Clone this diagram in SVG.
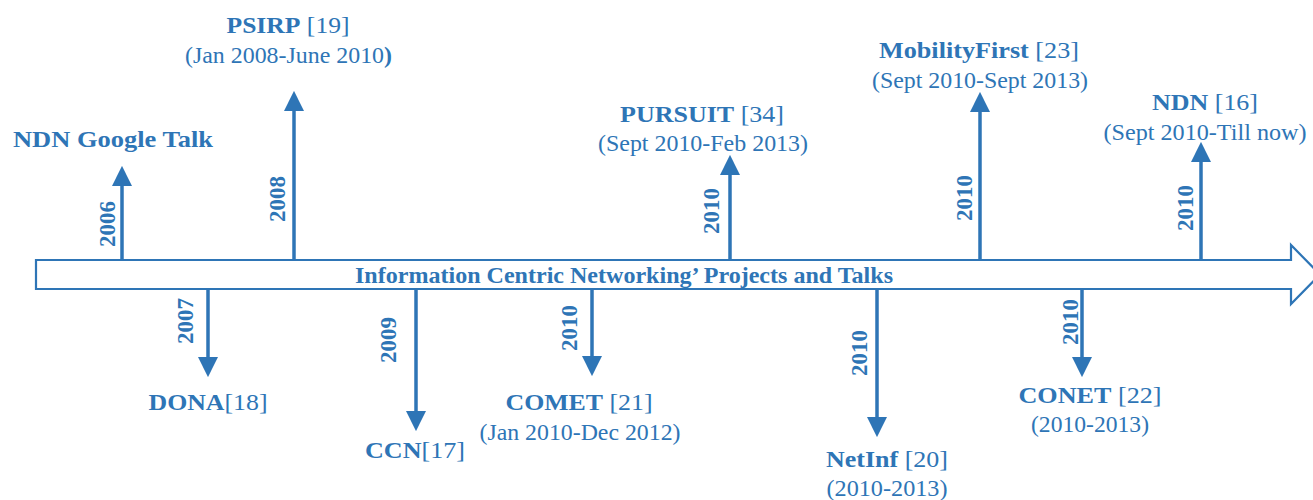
<svg xmlns="http://www.w3.org/2000/svg" width="1313" height="500" viewBox="0 0 1313 500">
<style>
text{font-family:"Liberation Serif","Times New Roman",serif;font-size:24px;fill:#2E75B6;text-anchor:middle}
.b{font-weight:bold}
.yr{font-weight:bold;font-size:23px}
.c{stroke:#2E75B6;stroke-width:3.5;fill:none;marker-end:url(#ah)}
</style>
<defs>
<marker id="ah" markerUnits="userSpaceOnUse" markerWidth="20" markerHeight="20" viewBox="0 0 18 18" refX="8" refY="9" orient="auto">
<path d="M0,0 L18,9 L0,18 z" fill="#2E75B6"/>
</marker>
</defs>
<rect width="1313" height="500" fill="#fff"/>
<g id="timeline">
<path d="M36,260 L1291,260 L1291,245 L1320,274.5 L1291,304 L1291,289 L36,289 Z" fill="#fff" stroke="#2E75B6" stroke-width="2.2"/>
<text class="b" x="624" y="283" textLength="538" lengthAdjust="spacingAndGlyphs">Information Centric Networking’ Projects and Talks</text>
</g>
<g id="connectors">
<line class="c" x1="122" y1="260" x2="122" y2="177"/>
<line class="c" x1="294" y1="260" x2="294" y2="102"/>
<line class="c" x1="730" y1="260" x2="730" y2="166"/>
<line class="c" x1="980" y1="260" x2="980" y2="103"/>
<line class="c" x1="1201" y1="260" x2="1201" y2="153"/>
<line class="c" x1="208" y1="289" x2="208" y2="366"/>
<line class="c" x1="416" y1="289" x2="416" y2="420"/>
<line class="c" x1="592" y1="289" x2="592" y2="365"/>
<line class="c" x1="877" y1="289" x2="877" y2="426"/>
<line class="c" x1="1082" y1="289" x2="1082" y2="366"/>
</g>
<g id="years">
<text class="yr" transform="translate(115,224) rotate(-90)">2006</text>
<text class="yr" transform="translate(285,199) rotate(-90)">2008</text>
<text class="yr" transform="translate(719,211) rotate(-90)">2010</text>
<text class="yr" transform="translate(972,198) rotate(-90)">2010</text>
<text class="yr" transform="translate(1193,208) rotate(-90)">2010</text>
<text class="yr" transform="translate(193,321) rotate(-90)">2007</text>
<text class="yr" transform="translate(396,340) rotate(-90)">2009</text>
<text class="yr" transform="translate(577,328) rotate(-90)">2010</text>
<text class="yr" transform="translate(867,353) rotate(-90)">2010</text>
<text class="yr" transform="translate(1078,322) rotate(-90)">2010</text>
</g>
<g id="ndn-google-talk">
<text class="b" x="113" y="147" textLength="200" lengthAdjust="spacingAndGlyphs">NDN Google Talk</text>
</g>
<g id="psirp">
<text x="288" y="33" textLength="123" lengthAdjust="spacingAndGlyphs"><tspan class="b">PSIRP</tspan> [19]</text>
<text x="288.5" y="63" textLength="207" lengthAdjust="spacingAndGlyphs">(Jan 2008-June 2010<tspan class="b">)</tspan></text>
</g>
<g id="pursuit">
<text x="702" y="122" textLength="164" lengthAdjust="spacingAndGlyphs"><tspan class="b">PURSUIT</tspan> [34]</text>
<text x="703" y="151" textLength="210" lengthAdjust="spacingAndGlyphs">(Sept 2010-Feb 2013)</text>
</g>
<g id="mobilityfirst">
<text x="979" y="58" textLength="200" lengthAdjust="spacingAndGlyphs"><tspan class="b">MobilityFirst</tspan> [23]</text>
<text x="980" y="88" textLength="216" lengthAdjust="spacingAndGlyphs">(Sept 2010-Sept 2013)</text>
</g>
<g id="ndn">
<text x="1205" y="110" textLength="106" lengthAdjust="spacingAndGlyphs"><tspan class="b">NDN</tspan> [16]</text>
<text x="1205" y="140" textLength="203" lengthAdjust="spacingAndGlyphs">(Sept 2010-Till now)</text>
</g>
<g id="dona">
<text x="208" y="410" textLength="119" lengthAdjust="spacingAndGlyphs"><tspan class="b">DONA</tspan>[18]</text>
</g>
<g id="ccn">
<text x="415" y="458" textLength="100" lengthAdjust="spacingAndGlyphs"><tspan class="b">CCN</tspan>[17]</text>
</g>
<g id="comet">
<text x="579" y="410" textLength="147" lengthAdjust="spacingAndGlyphs"><tspan class="b">COMET</tspan> [21]</text>
<text x="580" y="440" textLength="201" lengthAdjust="spacingAndGlyphs">(Jan 2010-Dec 2012)</text>
</g>
<g id="netinf">
<text x="887" y="467" textLength="122" lengthAdjust="spacingAndGlyphs"><tspan class="b">NetInf</tspan> [20]</text>
<text x="887" y="496" textLength="121" lengthAdjust="spacingAndGlyphs">(2010-2013)</text>
</g>
<g id="conet">
<text x="1090" y="403" textLength="143" lengthAdjust="spacingAndGlyphs"><tspan class="b">CONET</tspan> [22]</text>
<text x="1090" y="432" textLength="118" lengthAdjust="spacingAndGlyphs">(2010-2013)</text>
</g>
</svg>
